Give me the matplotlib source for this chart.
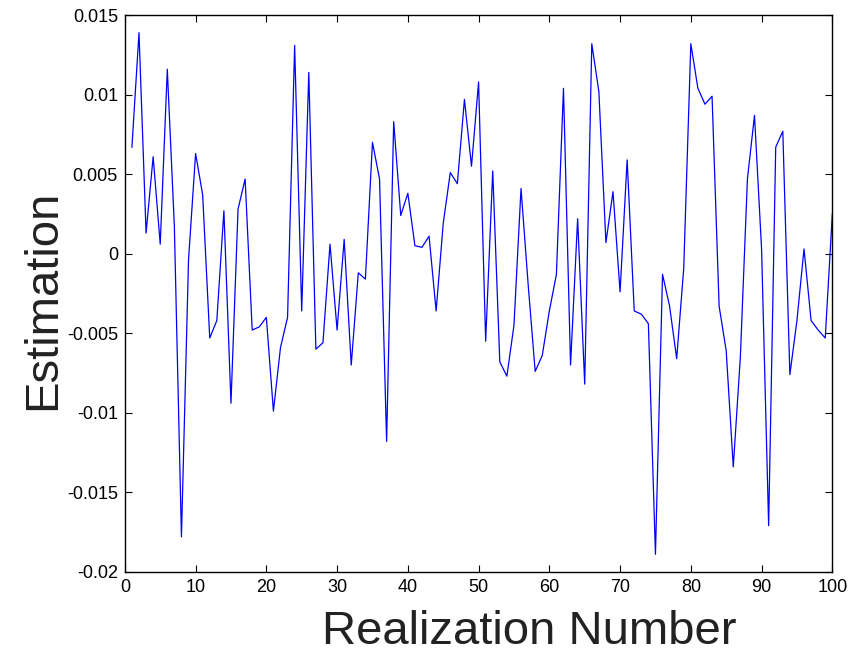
import numpy as np
import matplotlib.pyplot as plt

# Estimation per realization
realization = np.arange(1, 101)
estimation = [
    0.0067, 0.0139, 0.0013, 0.0061, 0.0006, 0.0116, 0.0017, -0.0178, -0.0004, 0.0063,
    0.0037, -0.0053, -0.0042, 0.0027, -0.0094, 0.0028, 0.0047, -0.0048, -0.0046, -0.0040,
    -0.0099, -0.0059, -0.0040, 0.0131, -0.0036, 0.0114, -0.0060, -0.0056, 0.0006, -0.0048,
    0.0009, -0.0070, -0.0012, -0.0016, 0.0070, 0.0047, -0.0118, 0.0083, 0.0024, 0.0038,
    0.0005, 0.0004, 0.0011, -0.0036, 0.0019, 0.0051, 0.0044, 0.0097, 0.0055, 0.0108,
    -0.0055, 0.0052, -0.0068, -0.0077, -0.0045, 0.0041, -0.0019, -0.0074, -0.0064, -0.0036,
    -0.0013, 0.0104, -0.0070, 0.0022, -0.0082, 0.0132, 0.0102, 0.0007, 0.0039, -0.0024,
    0.0059, -0.0036, -0.0038, -0.0044, -0.0189, -0.0013, -0.0033, -0.0066, -0.0009, 0.0132,
    0.0104, 0.0094, 0.0099, -0.0033, -0.0061, -0.0134, -0.0065, 0.0047, 0.0087, 0.0003,
    -0.0171, 0.0067, 0.0077, -0.0076, -0.0042, 0.0003, -0.0042, -0.0048, -0.0053, 0.0025,
]

xticks = [0, 10, 20, 30, 40, 50, 60, 70, 80, 90, 100]
yticks = [-0.02, -0.015, -0.01, -0.005, 0, 0.005, 0.01, 0.015]
ytick_labels = ["-0.02", "-0.015", "-0.01", "-0.005", "0", "0.005", "0.01", "0.015"]

plt.rcParams['font.family'] = ['Liberation Sans', 'DejaVu Sans']

fig = plt.figure(figsize=(8.67, 6.58), dpi=100)
ax = fig.add_axes([0.144, 0.131, 0.816, 0.846])

ax.plot(realization, estimation, color='#0000ff', linewidth=0.9)

ax.set_xlim(0, 100)
ax.set_ylim(-0.02, 0.015)
ax.set_xticks(xticks)
ax.set_yticks(yticks)
ax.set_yticklabels(ytick_labels)
ax.tick_params(direction='in', length=5, width=0.8, top=True, right=True,
               labelsize=13, pad=5)
for s in ax.spines.values():
    s.set_linewidth(1.0)

# big axis labels, placed by hand like the original
ax.set_xlabel("Realization Number", fontsize=34, color='#222222')
ax.xaxis.set_label_coords(0.572, -0.068)
ax.set_ylabel("Estimation", fontsize=34, color='#222222')
ax.yaxis.set_label_coords(-0.085, 0.488)

fig.savefig("out.png", dpi=100)
